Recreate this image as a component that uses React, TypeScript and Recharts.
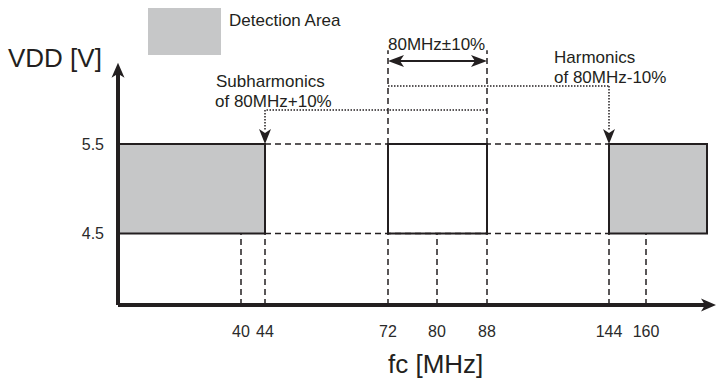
// Clock detection diagram: VDD vs fc, with the 80MHz ±10% window and the harmonic /
// subharmonic bands that the detector flags (grey areas).
import { ComposedChart, XAxis, YAxis, Line, ReferenceArea, ReferenceLine, ReferenceDot } from "recharts";

const TICKS_MHZ = [40, 44, 72, 80, 88, 144, 160];
const VDD_TICKS = [4.5, 5.5];
const VDD_LOW = 4.5;
const VDD_HIGH = 5.5;
const NORMAL_BAND = [72, 88];
const DETECTION_BANDS = [
  [0, 44],
  [144, 176],
];

// broken x axis: each MHz knot gets its own place along the axis (axis units)
const AXIS_KNOTS = [0, 40, 44, 72, 80, 88, 144, 160, 176];
const AXIS_PLACES = [0, 123, 147, 270, 319, 369, 491, 528, 589];
const AXIS_END = 598;

// vertical levels (V) used by the annotations
const Y_MIN = 3.7;
const Y_MAX = 7.0;
const Y_AXIS_TIP = 6.41;
const GUIDE_TOP = 6.55;
const BRACKET_LEVEL = 6.43;
const HARM_LEVEL = 6.15;
const SUB_LEVEL = 5.88;

const INK = "#231f20";
const GREY = "#c6c7c8";
const FONT = "'Liberation Sans', Arial, sans-serif";

function pos(mhz: number) {
  for (let i = 1; i < AXIS_KNOTS.length; i++) {
    if (mhz <= AXIS_KNOTS[i]) {
      const t = (mhz - AXIS_KNOTS[i - 1]) / (AXIS_KNOTS[i] - AXIS_KNOTS[i - 1]);
      return AXIS_PLACES[i - 1] + t * (AXIS_PLACES[i] - AXIS_PLACES[i - 1]);
    }
  }
  return AXIS_PLACES[AXIS_PLACES.length - 1];
}

function tickLabel(v: number) {
  const t = TICKS_MHZ.find((m) => Math.abs(pos(m) - v) < 0.01);
  return t == null ? "" : String(t);
}

type Dir = "up" | "down" | "left" | "right";
const arrowHead = (dir: Dir, len = 15, half = 6.5, notch = 4) => (props: any) => {
  const { cx, cy } = props;
  const pts: Record<Dir, number[][]> = {
    down: [[0, 0], [-half, -len], [0, -len + notch], [half, -len]],
    up: [[0, 0], [-half, len], [0, len - notch], [half, len]],
    right: [[0, 0], [-len, -half], [-len + notch, 0], [-len, half]],
    left: [[0, 0], [len, -half], [len - notch, 0], [len, half]],
  };
  const d = pts[dir].map(([dx, dy], i) => `${i ? "L" : "M"}${cx + dx},${cy + dy}`).join(" ") + " Z";
  return <path d={d} fill={INK} stroke="none" />;
};

const dashed = { stroke: INK, strokeWidth: 1.5, strokeDasharray: "6 4", ifOverflow: "visible" as const };
const dotted = { stroke: INK, strokeWidth: 1.5, strokeDasharray: "1.5 1.5", ifOverflow: "visible" as const };
const textStyle = { fontFamily: FONT, fill: INK };

export default function App() {
  // foot of each frequency guide sits on the 4.5V edge
  const data = TICKS_MHZ.map((m) => ({ x: pos(m), vdd: VDD_LOW }));
  const [lo, hi] = NORMAL_BAND;
  return (
    <div style={{ position: "absolute", left: 0, top: 0, width: 716, height: 383, background: "#fff" }}>
      <ComposedChart width={716} height={383} data={data} margin={{ top: 10, right: 0, bottom: 0, left: 0 }}>
        <XAxis
          type="number"
          dataKey="x"
          domain={[0, AXIS_END]}
          allowDataOverflow
          ticks={TICKS_MHZ.map(pos)}
          tickFormatter={tickLabel}
          interval={0}
          height={78}
          axisLine={false}
          tickLine={false}
          tickMargin={15}
          tick={{ fontSize: 16, fill: "#2a2a2a", fontFamily: FONT }}
        />
        <YAxis
          type="number"
          domain={[Y_MIN, Y_MAX]}
          allowDataOverflow
          ticks={VDD_TICKS}
          tickFormatter={(v: number) => v.toFixed(1)}
          width={118}
          axisLine={false}
          tickLine={false}
          tickMargin={8}
          tick={{ fontSize: 16, fill: "#2a2a2a", fontFamily: FONT }}
        />
        <Line dataKey="vdd" stroke="none" dot={false} activeDot={false} isAnimationActive={false} />

        {/* dashed guides down to the axis */}
        {TICKS_MHZ.map((m) => (
          <ReferenceLine key={`g${m}`} segment={[{ x: pos(m), y: Y_MIN }, { x: pos(m), y: VDD_LOW }]} {...dashed} />
        ))}
        {NORMAL_BAND.map((m) => (
          <ReferenceLine key={`t${m}`} segment={[{ x: pos(m), y: VDD_HIGH }, { x: pos(m), y: GUIDE_TOP }]} {...dashed} />
        ))}
        {[VDD_LOW, VDD_HIGH].map((v) => (
          <ReferenceLine key={`h${v}`} segment={[{ x: pos(44), y: v }, { x: pos(144), y: v }]} {...dashed} />
        ))}

        {/* detection areas and the normal window */}
        {DETECTION_BANDS.map(([a, b]) => (
          <ReferenceArea key={`d${a}`} x1={pos(a)} x2={pos(b)} y1={VDD_LOW} y2={VDD_HIGH} fill={GREY} fillOpacity={1} stroke={INK} strokeWidth={2} ifOverflow="visible" />
        ))}
        <ReferenceArea x1={pos(lo)} x2={pos(hi)} y1={VDD_LOW} y2={VDD_HIGH} fill="#fff" fillOpacity={1} stroke={INK} strokeWidth={2} ifOverflow="visible" />

        {/* 80MHz ±10% bracket */}
        <ReferenceLine segment={[{ x: pos(lo) + 8, y: BRACKET_LEVEL }, { x: pos(hi) - 8, y: BRACKET_LEVEL }]} stroke={INK} strokeWidth={2} ifOverflow="visible" />
        <ReferenceDot x={pos(lo)} y={BRACKET_LEVEL} r={0} shape={arrowHead("left", 16, 6)} ifOverflow="visible" />
        <ReferenceDot x={pos(hi)} y={BRACKET_LEVEL} r={0} shape={arrowHead("right", 16, 6)} ifOverflow="visible" />

        {/* harmonics: 72MHz x2 = 144 */}
        <ReferenceLine segment={[{ x: pos(lo), y: HARM_LEVEL }, { x: pos(144), y: HARM_LEVEL }]} {...dotted} />
        <ReferenceLine segment={[{ x: pos(144), y: HARM_LEVEL }, { x: pos(144), y: VDD_HIGH + 0.15 }]} {...dotted} />
        <ReferenceDot x={pos(144)} y={VDD_HIGH} r={0} shape={arrowHead("down", 15, 6)} ifOverflow="visible" />

        {/* subharmonics: 88MHz / 2 = 44 */}
        <ReferenceLine segment={[{ x: pos(hi), y: SUB_LEVEL }, { x: pos(44), y: SUB_LEVEL }]} {...dotted} />
        <ReferenceLine segment={[{ x: pos(44), y: SUB_LEVEL }, { x: pos(44), y: VDD_HIGH + 0.15 }]} {...dotted} />
        <ReferenceDot x={pos(44)} y={VDD_HIGH} r={0} shape={arrowHead("down", 15, 6)} ifOverflow="visible" />

        {/* axes with arrows */}
        <ReferenceLine segment={[{ x: 0, y: Y_MIN }, { x: AXIS_END - 8, y: Y_MIN }]} stroke={INK} strokeWidth={4} ifOverflow="visible" />
        <ReferenceLine segment={[{ x: 0, y: Y_MIN }, { x: 0, y: Y_AXIS_TIP - 0.1 }]} stroke={INK} strokeWidth={4} ifOverflow="visible" />
        <ReferenceDot x={AXIS_END} y={Y_MIN} r={0} shape={arrowHead("right", 15, 6.5)} ifOverflow="visible" />
        <ReferenceDot x={0} y={Y_AXIS_TIP} r={0} shape={arrowHead("up", 15, 6.5)} ifOverflow="visible" />

        {/* legend and annotations */}
        <rect x={148} y={8} width={73} height={47} fill={GREY} />
        <text x={229} y={26} fontSize={17} style={textStyle}>Detection Area</text>
        <text x={8} y={67} fontSize={26} style={textStyle}>VDD [V]</text>
        <text x={388} y={50} fontSize={17} style={textStyle}>80MHz±10%</text>
        <text x={216} y={87} fontSize={17} style={textStyle}>Subharmonics</text>
        <text x={215} y={107} fontSize={17} style={textStyle}>of 80MHz+10%</text>
        <text x={554} y={63} fontSize={17} style={textStyle}>Harmonics</text>
        <text x={554} y={83} fontSize={17} style={textStyle}>of 80MHz-10%</text>
        <text x={388} y={373} fontSize={26} style={textStyle}>fc [MHz]</text>
      </ComposedChart>
    </div>
  );
}
